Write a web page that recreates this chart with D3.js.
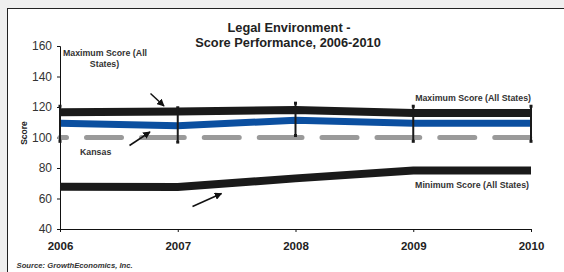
<!DOCTYPE html>
<html><head><meta charset="utf-8">
<script src="https://cdn.jsdelivr.net/npm/d3@7"></script>
<style>
html,body{margin:0;padding:0;background:#efefef;}
svg{display:block;font-family:"Liberation Sans",Arial,sans-serif;}
</style></head><body>
<svg id="c" width="564" height="272"></svg>
<script>
const years = [2006, 2007, 2008, 2009, 2010];
const maxScore = [116.5, 117, 118, 116, 116];
const kansas = [109.3, 107.7, 111.3, 109.3, 109.3];
const minScore = [67.7, 67.5, 73.2, 78.3, 78.3];
const baseline = [100, 100, 100, 100, 100];
const markerHigh = [120.5, 119.5, 122.5, 120.5, 120.5];
const markerLow = [97.5, 97, 101.3, 97.5, 97.5];
const yTicks = [40, 60, 80, 100, 120, 140, 160];

const svg = d3.select("#c");
svg.append("rect").attr("x", 7.5).attr("y", 8.5).attr("width", 600).attr("height", 300)
  .attr("fill", "#fff").attr("stroke", "#222").attr("stroke-width", 1);

const x = d3.scaleLinear().domain([2006, 2010]).range([60, 531]);
const y = d3.scaleLinear().domain([40, 160]).range([229, 46]);

// axes
const yAxis = d3.axisLeft(y).tickValues(yTicks).tickSize(3).tickPadding(5);
const gy = svg.append("g").attr("transform", "translate(60,0)").call(yAxis);
gy.select(".domain").attr("stroke", "#111");
gy.selectAll(".tick line").attr("stroke", "#111");
gy.selectAll("text").attr("font-size", 12).attr("fill", "#333").attr("font-family", "Liberation Sans, Arial, sans-serif");

const xAxis = d3.axisBottom(x).tickValues(years).tickFormat(d3.format("d")).tickSize(3).tickPadding(10);
const gx = svg.append("g").attr("transform", "translate(0,229)").call(xAxis);
gx.select(".domain").attr("stroke", "#111");
gx.selectAll(".tick line").attr("stroke", "#111");
gx.selectAll("text").attr("font-size", 11.5).attr("font-weight", "bold").attr("fill", "#222").attr("font-family", "Liberation Sans, Arial, sans-serif");

const line = d3.line().x((d, i) => x(years[i])).y(d => y(d));
const segLine = d3.line().x(d => x(d[0])).y(d => y(d[1]));

// baseline dashed (dash pattern restarts at each category, as in the source)
for (let i = 0; i < years.length - 1; i++) {
  svg.append("path").datum([[years[i], baseline[i]], [years[i + 1], baseline[i + 1]]]).attr("d", segLine)
    .attr("fill", "none").attr("stroke", "#9a9a9a").attr("stroke-width", 5).attr("stroke-linecap", "round")
    .attr("stroke-dasharray", "35,20").attr("stroke-dashoffset", 28.5);
}

// min
svg.append("path").datum(minScore).attr("d", line).attr("fill", "none")
  .attr("stroke", "#1a1a1a").attr("stroke-width", 8);
// kansas
svg.append("path").datum(kansas).attr("d", line).attr("fill", "none")
  .attr("stroke", "#0b4fa0").attr("stroke-width", 7);
// max
svg.append("path").datum(maxScore).attr("d", line).attr("fill", "none")
  .attr("stroke", "#1a1a1a").attr("stroke-width", 8);

// high-low markers
const mk = svg.append("g");
years.forEach((yr, i) => {
  mk.append("line").attr("x1", x(yr)).attr("x2", x(yr)).attr("y1", y(markerHigh[i])).attr("y2", y(markerLow[i]))
    .attr("stroke", "#1a1a1a").attr("stroke-width", 2);
  [markerHigh[i], markerLow[i]].forEach(v => {
    mk.append("rect").attr("x", x(yr) - 1.5).attr("y", y(v) - 1.5).attr("width", 3).attr("height", 3).attr("fill", "#1a1a1a");
  });
});

// arrows
const defs = svg.append("defs");
defs.append("marker").attr("id", "ah").attr("viewBox", "0 0 10 10").attr("refX", 9).attr("refY", 5)
  .attr("markerWidth", 5).attr("markerHeight", 5).attr("orient", "auto")
  .append("path").attr("d", "M0,0L10,5L0,10z").attr("fill", "#111");
const arrows = [[150.5, 93.5, 164, 106], [129.5, 145.5, 150, 132], [192.5, 206.5, 221.5, 193.5]];
arrows.forEach(a => {
  svg.append("line").attr("x1", a[0]).attr("y1", a[1]).attr("x2", a[2]).attr("y2", a[3])
    .attr("stroke", "#111").attr("stroke-width", 1.5).attr("marker-end", "url(#ah)");
});

// annotations
const ann = (t, xx, yy, anchor) => svg.append("text").attr("x", xx).attr("y", yy).attr("text-anchor", anchor)
  .attr("font-size", 8.8).attr("font-weight", "bold").attr("fill", "#333").text(t);
ann("Maximum Score (All", 105, 55.5, "middle");
ann("States)", 104.5, 66.5, "middle");
ann("Maximum Score (All States)", 531, 100.5, "end");
ann("Kansas", 80, 154.5, "start");
ann("Minimum Score (All States)", 529, 187.5, "end");

// title
svg.append("text").attr("x", 289).attr("y", 32).attr("text-anchor", "middle").attr("font-size", 12.8)
  .attr("font-weight", "bold").attr("fill", "#222").text("Legal Environment -");
svg.append("text").attr("x", 288).attr("y", 47).attr("text-anchor", "middle").attr("font-size", 12.8)
  .attr("font-weight", "bold").attr("fill", "#222").text("Score Performance, 2006-2010");

// y title
svg.append("text").attr("transform", "translate(27,133) rotate(-90)").attr("text-anchor", "middle")
  .attr("font-size", 8.5).attr("font-weight", "bold").attr("fill", "#222").text("Score");

// source
svg.append("text").attr("x", 16.5).attr("y", 268).attr("font-size", 7.7).attr("font-weight", "bold")
  .attr("font-style", "italic").attr("fill", "#333").text("Source: GrowthEconomics, Inc.");
</script>
</body></html>
